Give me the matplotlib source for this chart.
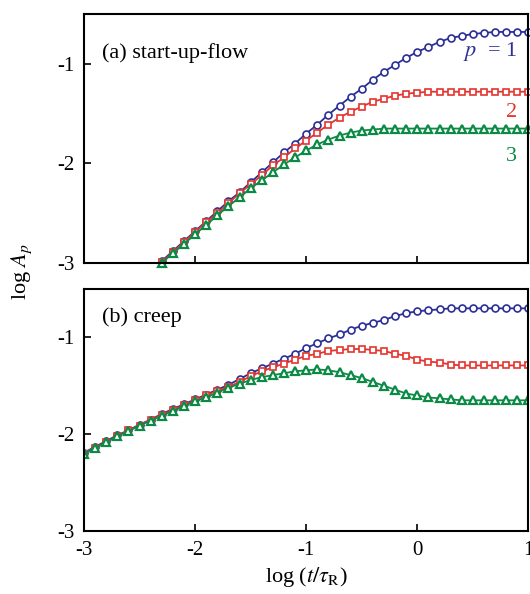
import matplotlib
matplotlib.use("Agg")
import matplotlib.pyplot as plt

plt.rcParams["font.family"] = ["Liberation Serif", "DejaVu Serif"]
plt.rcParams["mathtext.fontset"] = "stix"
plt.rcParams["axes.unicode_minus"] = False

# (a) start-up flow, log t from -2.3 to 1.0
x_start = [-2.3, -2.2, -2.1, -2.0, -1.9, -1.8, -1.7, -1.6, -1.5, -1.4, -1.3, -1.2,
           -1.1, -1.0, -0.9, -0.8, -0.7, -0.6, -0.5, -0.4, -0.3, -0.2, -0.1, 0.0,
           0.1, 0.2, 0.3, 0.4, 0.5, 0.6, 0.7, 0.8, 0.9, 1.0]
start_p1 = [-2.98, -2.88, -2.78, -2.68, -2.58, -2.48, -2.38, -2.29, -2.19, -2.09,
            -1.99, -1.89, -1.80, -1.70, -1.61, -1.51, -1.42, -1.33, -1.25, -1.16,
            -1.08, -1.01, -0.94, -0.88, -0.83, -0.78, -0.74, -0.72, -0.70, -0.69,
            -0.68, -0.68, -0.68, -0.68]
start_p2 = [-2.99, -2.89, -2.79, -2.69, -2.59, -2.50, -2.40, -2.30, -2.21, -2.12,
            -2.02, -1.94, -1.85, -1.77, -1.69, -1.61, -1.54, -1.48, -1.43, -1.38,
            -1.35, -1.32, -1.30, -1.29, -1.28, -1.28, -1.28, -1.28, -1.28, -1.28,
            -1.28, -1.28, -1.28, -1.28]
start_p3 = [-3.00, -2.90, -2.81, -2.71, -2.62, -2.52, -2.43, -2.34, -2.25, -2.17,
            -2.09, -2.01, -1.94, -1.87, -1.81, -1.76, -1.72, -1.69, -1.67, -1.66,
            -1.65, -1.65, -1.65, -1.65, -1.65, -1.65, -1.65, -1.65, -1.65, -1.65,
            -1.65, -1.65, -1.65, -1.65]

# (b) creep, log t from -3.0 to 1.0
x_creep = [-3.0, -2.9, -2.8, -2.7, -2.6, -2.5, -2.4, -2.3, -2.2, -2.1, -2.0, -1.9,
           -1.8, -1.7, -1.6, -1.5, -1.4, -1.3, -1.2, -1.1, -1.0, -0.9, -0.8, -0.7,
           -0.6, -0.5, -0.4, -0.3, -0.2, -0.1, 0.0, 0.1, 0.2, 0.3, 0.4, 0.5, 0.6,
           0.7, 0.8, 0.9, 1.0]
creep_p1 = [-2.19, -2.13, -2.07, -2.01, -1.96, -1.90, -1.85, -1.79, -1.74, -1.69,
            -1.64, -1.59, -1.54, -1.49, -1.43, -1.37, -1.32, -1.27, -1.22, -1.17,
            -1.11, -1.06, -1.01, -0.97, -0.92, -0.88, -0.85, -0.82, -0.78, -0.75,
            -0.73, -0.72, -0.71, -0.70, -0.70, -0.70, -0.70, -0.70, -0.70, -0.70,
            -0.70]
creep_p2 = [-2.20, -2.14, -2.08, -2.02, -1.96, -1.91, -1.85, -1.80, -1.75, -1.70,
            -1.65, -1.60, -1.55, -1.51, -1.46, -1.40, -1.35, -1.31, -1.27, -1.23,
            -1.19, -1.17, -1.14, -1.13, -1.12, -1.12, -1.13, -1.14, -1.17, -1.19,
            -1.23, -1.25, -1.26, -1.28, -1.29, -1.29, -1.29, -1.29, -1.29, -1.29,
            -1.29]
creep_p3 = [-2.20, -2.14, -2.08, -2.02, -1.97, -1.91, -1.86, -1.81, -1.76, -1.71,
            -1.66, -1.62, -1.57, -1.52, -1.48, -1.44, -1.41, -1.39, -1.37, -1.35,
            -1.34, -1.33, -1.34, -1.36, -1.39, -1.42, -1.46, -1.50, -1.54, -1.58,
            -1.60, -1.62, -1.63, -1.64, -1.65, -1.65, -1.65, -1.65, -1.65, -1.65,
            -1.65]

blue = "#2b2f96"
red = "#e4352f"
green = "#0b8a45"

fig = plt.figure(figsize=(5.3, 5.94), dpi=100)
ax_a = fig.add_axes([0.1585, 0.5572, 0.8385, 0.4192])
ax_b = fig.add_axes([0.1585, 0.106, 0.8385, 0.4075])


def draw(ax, x, p1, p2, p3, clip):
    ax.plot(x, p1, "-o", color=blue, mfc="white", mec=blue, ms=5, mew=1.2,
            lw=1.3, clip_on=clip)
    ax.plot(x, p2, "-s", color=red, mfc="white", mec=red, ms=5, mew=1.2,
            lw=1.3, clip_on=clip)
    ax.plot(x, p3, "-^", color=green, mfc="white", mec=green, ms=6, mew=1.6,
            lw=1.3, clip_on=clip)
    ax.set_xlim(-3, 1)
    ax.set_ylim(-3, -0.5)
    ax.set_xticks([-3, -2, -1, 0, 1])
    ax.set_yticks([-3, -2, -1])
    ax.tick_params(direction="in", length=5, width=1.2, labelsize=15, pad=7)
    for s in ax.spines.values():
        s.set_linewidth(1.5)


draw(ax_a, x_start, start_p1, start_p2, start_p3, False)
draw(ax_b, x_creep, creep_p1, creep_p2, creep_p3, True)
ax_a.tick_params(labelbottom=False)

ax_a.text(-2.84, -0.89, "(a) start-up-flow", fontsize=16, va="center")
ax_b.text(-2.84, -0.79, "(b) creep", fontsize=16, va="center")

ax_a.text(0.9, -0.88, r"$p$  = 1", fontsize=16, color=blue, ha="right", va="center")
ax_a.text(0.9, -1.49, "2", fontsize=16, color=red, ha="right", va="center")
ax_a.text(0.9, -1.93, "3", fontsize=16, color=green, ha="right", va="center")

fig.text(22 / 530, 1 - 272 / 594, r"log $A_p$", rotation=90, fontsize=16,
         ha="center", va="center")
ax_b.set_xlabel(r"log ($t/\tau_{\rm R}$)", fontsize=16, labelpad=4)

fig.savefig("out.png", dpi=100)
